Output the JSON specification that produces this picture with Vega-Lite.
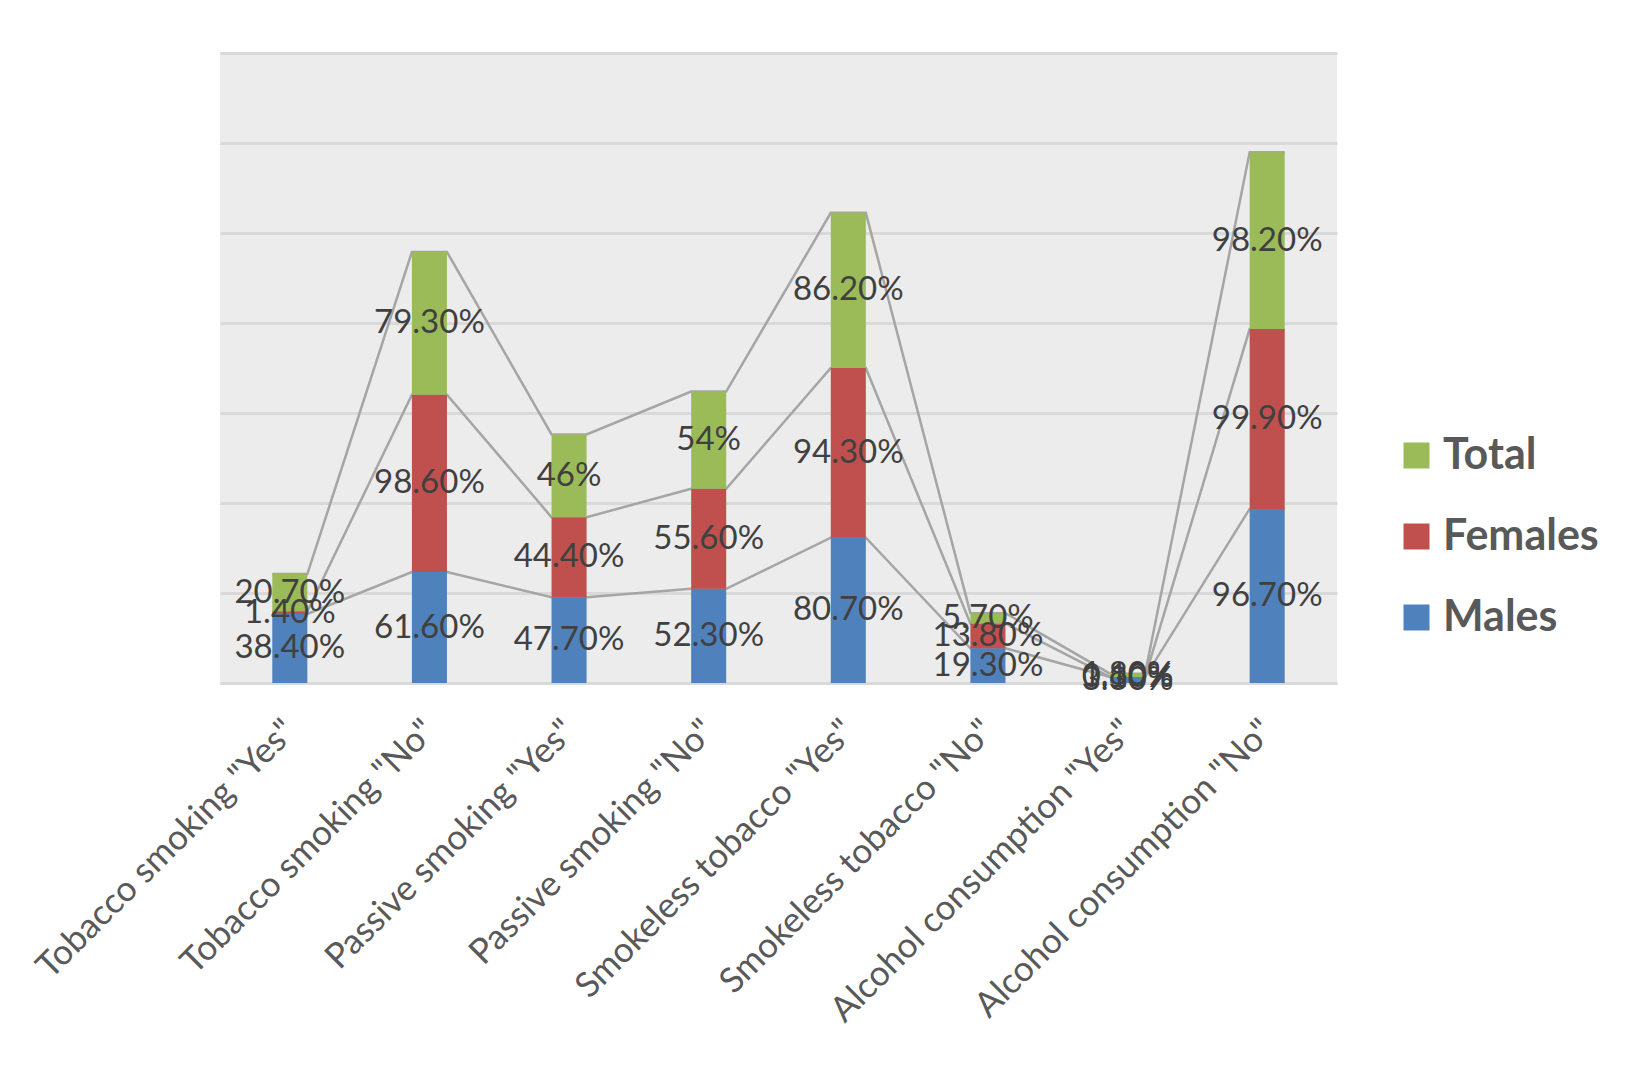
{
  "$schema": "https://vega.github.io/schema/vega-lite/v6.json",
  "width": 1117,
  "height": 630,
  "autosize": {"type": "none"},
  "padding": {"left": 220, "top": 53, "right": 311, "bottom": 385},
  "background": "white",
  "data": {
    "values": [
      {"category": "Tobacco smoking \"Yes\"", "series": "Males", "value": 38.4},
      {"category": "Tobacco smoking \"Yes\"", "series": "Females", "value": 1.4},
      {"category": "Tobacco smoking \"Yes\"", "series": "Total", "value": 20.7},
      {"category": "Tobacco smoking \"No\"", "series": "Males", "value": 61.6},
      {"category": "Tobacco smoking \"No\"", "series": "Females", "value": 98.6},
      {"category": "Tobacco smoking \"No\"", "series": "Total", "value": 79.3},
      {"category": "Passive smoking \"Yes\"", "series": "Males", "value": 47.7},
      {"category": "Passive smoking \"Yes\"", "series": "Females", "value": 44.4},
      {"category": "Passive smoking \"Yes\"", "series": "Total", "value": 46},
      {"category": "Passive smoking \"No\"", "series": "Males", "value": 52.3},
      {"category": "Passive smoking \"No\"", "series": "Females", "value": 55.6},
      {"category": "Passive smoking \"No\"", "series": "Total", "value": 54},
      {"category": "Smokeless tobacco \"Yes\"", "series": "Males", "value": 80.7},
      {"category": "Smokeless tobacco \"Yes\"", "series": "Females", "value": 94.3},
      {"category": "Smokeless tobacco \"Yes\"", "series": "Total", "value": 86.2},
      {"category": "Smokeless tobacco \"No\"", "series": "Males", "value": 19.3},
      {"category": "Smokeless tobacco \"No\"", "series": "Females", "value": 13.8},
      {"category": "Smokeless tobacco \"No\"", "series": "Total", "value": 5.7},
      {"category": "Alcohol consumption \"Yes\"", "series": "Males", "value": 3.3},
      {"category": "Alcohol consumption \"Yes\"", "series": "Females", "value": 0.1},
      {"category": "Alcohol consumption \"Yes\"", "series": "Total", "value": 1.8},
      {"category": "Alcohol consumption \"No\"", "series": "Males", "value": 96.7},
      {"category": "Alcohol consumption \"No\"", "series": "Females", "value": 99.9},
      {"category": "Alcohol consumption \"No\"", "series": "Total", "value": 98.2}
    ]
  },
  "transform": [
    {"calculate": "indexof(['Males', 'Females', 'Total'], datum.series)", "as": "ord"},
    {
      "stack": "value",
      "groupby": ["category"],
      "sort": [{"field": "ord", "order": "ascending"}],
      "as": ["y0", "y1"]
    },
    {"calculate": "(datum.y0 + datum.y1) / 2", "as": "mid"},
    {
      "calculate": "datum.value % 1 === 0 ? datum.value + '%' : format(datum.value, '.2f') + '%'",
      "as": "label"
    }
  ],
  "encoding": {
    "x": {
      "field": "category",
      "type": "nominal",
      "sort": null,
      "title": null,
      "scale": {"paddingInner": 0.749, "paddingOuter": 0.3745},
      "axis": {
        "labelAngle": -45,
        "labelAlign": "right",
        "labelBaseline": "middle",
        "labelPadding": 42,
        "labelFontSize": 35,
        "labelColor": "#595959",
        "labelLimit": 600,
        "ticks": false,
        "domainColor": "#d9d9d9",
        "domainWidth": 3
      }
    }
  },
  "layer": [
    {
      "transform": [
        {"calculate": "datum.y1", "as": "L"},
        {"calculate": "datum.y1", "as": "R"},
        {"fold": ["L", "R"], "as": ["side", "top"]}
      ],
      "mark": {"type": "line", "color": "#a5a5a5", "strokeWidth": 2.5},
      "encoding": {
        "xOffset": {
          "field": "side",
          "type": "nominal",
          "scale": {"type": "point", "padding": 0}
        },
        "y": {
          "field": "top",
          "type": "quantitative",
          "scale": {"domain": [0, 350], "nice": false}
        },
        "detail": {"field": "series"},
        "order": {"value": null}
      }
    },
    {
      "mark": {"type": "bar", "width": {"band": 1}},
      "encoding": {
        "y": {
          "field": "y0",
          "type": "quantitative",
          "title": null,
          "scale": {"domain": [0, 350], "nice": false},
          "axis": {
            "values": [0, 50, 100, 150, 200, 250, 300, 350],
            "labels": false,
            "ticks": false,
            "domain": false,
            "gridColor": "#d9d9d9",
            "gridWidth": 3
          }
        },
        "y2": {"field": "y1"},
        "color": {
          "field": "series",
          "type": "nominal",
          "title": null,
          "scale": {
            "domain": ["Total", "Females", "Males"],
            "range": ["#9bbb59", "#c0504d", "#4f81bd"]
          },
          "legend": {
            "orient": "none",
            "legendX": 1175,
            "legendY": 381,
            "symbolType": "square",
            "symbolSize": 676,
            "symbolStrokeWidth": 0,
            "labelFontSize": 43,
            "labelFontWeight": "bold",
            "labelColor": "#595959",
            "labelOffset": 5,
            "rowPadding": 37,
            "padding": 0
          }
        }
      }
    },
    {
      "mark": {"type": "text", "fontSize": 33, "color": "#404040", "baseline": "middle"},
      "encoding": {
        "y": {
          "field": "mid",
          "type": "quantitative",
          "scale": {"domain": [0, 350], "nice": false}
        },
        "text": {"field": "label"}
      }
    }
  ],
  "resolve": {"scale": {"xOffset": "independent"}},
  "config": {
    "font": "Lato",
    "view": {"stroke": null, "fill": "#ececec"}
  }
}
